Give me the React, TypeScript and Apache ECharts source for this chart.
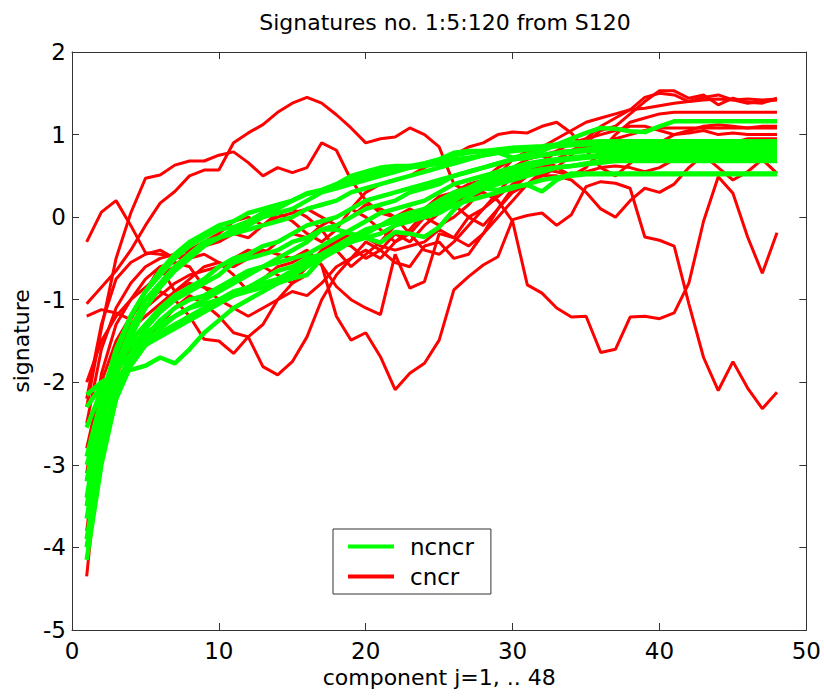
import React, { useEffect, useRef } from 'react';
import * as echarts from 'echarts';

const components = Array.from({ length: 48 }, (_, i) => i + 1);

// ncncr signatures (green)
const ncncr1 = [-3.2,-2.2,-1.6,-1.2,-0.9,-0.65,-0.45,-0.3,-0.2,-0.1,-0.05,0.05,0.1,0.15,0.2,0.28,0.32,0.38,0.45,0.5,0.55,0.58,0.6,0.65,0.7,0.75,0.78,0.8,0.78,0.72,0.76,0.8,0.88,0.95,1.02,1.08,1.07,1.04,1.03,1.1,1.16,1.16,1.16,1.16,1.16,1.16,1.16,1.16];
const ncncr2 = [-2.15,-2.0,-1.9,-1.85,-1.8,-1.7,-1.77,-1.6,-1.4,-1.25,-1.1,-1.0,-0.9,-0.8,-0.7,-0.6,-0.5,-0.4,-0.3,-0.2,-0.1,-0.05,0.0,0.05,0.1,0.2,0.3,0.35,0.4,0.45,0.5,0.55,0.6,0.62,0.65,0.68,0.7,0.7,0.7,0.7,0.7,0.7,0.7,0.7,0.7,0.7,0.7,0.7];
const ncncr3 = [-2.3,-2.05,-1.85,-1.65,-1.5,-1.35,-1.2,-1.1,-1.0,-0.9,-0.8,-0.7,-0.6,-0.5,-0.4,-0.3,-0.15,-0.15,-0.2,-0.25,-0.31,-0.18,-0.2,-0.24,-0.12,0.09,0.25,0.35,0.33,0.37,0.39,0.31,0.45,0.53,0.53,0.53,0.53,0.53,0.53,0.53,0.53,0.53,0.53,0.53,0.53,0.53,0.53,0.53];
const ncncr4 = [-2.55,-2.1,-1.75,-1.5,-1.3,-1.1,-0.95,-0.85,-0.75,-0.6,-0.5,-0.45,-0.35,-0.3,-0.2,-0.1,-0.05,0.0,0.1,0.2,0.25,0.3,0.35,0.4,0.45,0.5,0.55,0.6,0.65,0.7,0.72,0.75,0.78,0.8,0.82,0.84,0.85,0.85,0.85,0.85,0.85,0.85,0.85,0.85,0.85,0.85,0.85,0.85];
const ncncr5 = [-3.65,-2.6,-1.9,-1.45,-1.1,-0.85,-0.65,-0.5,-0.35,-0.25,-0.15,-0.1,0.0,0.05,0.1,0.2,0.3,0.35,0.4,0.45,0.5,0.55,0.6,0.62,0.65,0.7,0.72,0.75,0.78,0.8,0.82,0.84,0.86,0.88,0.9,0.9,0.9,0.9,0.9,0.9,0.9,0.9,0.9,0.9,0.9,0.9,0.9,0.9];
const ncncr6 = [-3.9,-2.8,-2.1,-1.65,-1.35,-1.15,-1.0,-0.9,-0.8,-0.7,-0.55,-0.5,-0.45,-0.4,-0.3,-0.25,-0.15,-0.1,0.0,0.1,0.15,0.2,0.3,0.35,0.4,0.5,0.55,0.6,0.65,0.7,0.72,0.75,0.77,0.78,0.8,0.8,0.8,0.8,0.8,0.8,0.8,0.8,0.8,0.8,0.8,0.8,0.8,0.8];
const ncncr7 = [-4.15,-3.0,-2.2,-1.75,-1.45,-1.25,-1.1,-1.0,-0.95,-0.85,-0.75,-0.65,-0.6,-0.55,-0.5,-0.45,-0.35,-0.25,-0.15,-0.05,0.05,0.1,0.15,0.2,0.3,0.4,0.45,0.5,0.55,0.6,0.65,0.68,0.7,0.72,0.74,0.75,0.75,0.75,0.75,0.75,0.75,0.75,0.75,0.75,0.75,0.75,0.75,0.75];
const ncncr8 = [-3.5,-2.5,-1.8,-1.35,-1.0,-0.8,-0.6,-0.45,-0.3,-0.25,-0.2,-0.15,-0.1,-0.05,0.0,0.1,0.15,0.2,0.3,0.35,0.4,0.45,0.5,0.55,0.6,0.65,0.7,0.75,0.78,0.8,0.82,0.84,0.86,0.87,0.88,0.88,0.88,0.88,0.88,0.88,0.88,0.88,0.88,0.88,0.88,0.88,0.88,0.88];
const ncncr9 = [-2.9,-2.2,-1.8,-1.55,-1.4,-1.3,-1.2,-1.1,-1.05,-1.0,-0.95,-0.9,-0.85,-0.8,-0.74,-0.7,-0.5,-0.35,-0.25,-0.15,-0.1,-0.05,0.0,0.1,0.2,0.3,0.35,0.4,0.45,0.5,0.55,0.58,0.6,0.62,0.64,0.66,0.68,0.68,0.68,0.68,0.68,0.68,0.68,0.68,0.68,0.68,0.68,0.68];
const ncncr10 = [-3.4,-2.3,-1.65,-1.2,-0.9,-0.7,-0.5,-0.35,-0.24,-0.15,-0.12,-0.05,0.05,0.1,0.2,0.29,0.33,0.4,0.5,0.55,0.6,0.62,0.62,0.65,0.7,0.78,0.8,0.8,0.82,0.84,0.85,0.86,0.88,0.9,0.91,0.92,0.92,0.92,0.92,0.92,0.92,0.92,0.92,0.92,0.92,0.92,0.92,0.92];
const ncncr11 = [-4.0,-2.9,-2.2,-1.8,-1.55,-1.4,-1.3,-1.2,-1.1,-1.0,-0.9,-0.85,-0.75,-0.65,-0.6,-0.5,-0.45,-0.35,-0.3,-0.2,-0.1,0.0,0.05,0.1,0.15,0.25,0.35,0.45,0.5,0.55,0.6,0.65,0.68,0.7,0.72,0.73,0.73,0.73,0.73,0.73,0.73,0.73,0.73,0.73,0.73,0.73,0.73,0.73];
const ncncr12 = [-3.0,-2.4,-2.0,-1.7,-1.55,-1.45,-1.35,-1.25,-1.15,-1.05,-0.95,-0.85,-0.8,-0.75,-0.65,-0.55,-0.45,-0.4,-0.3,-0.25,-0.2,-0.1,-0.05,0.0,0.05,0.15,0.2,0.25,0.3,0.35,0.4,0.45,0.48,0.5,0.52,0.52,0.52,0.52,0.52,0.52,0.52,0.52,0.52,0.52,0.52,0.52,0.52,0.52];

// cncr signatures (red)
const cncr1 = [-1.05,-0.85,-0.65,-0.4,-0.1,0.17,0.31,0.5,0.57,0.57,0.9,1.02,1.12,1.27,1.38,1.45,1.38,1.24,1.08,0.9,0.95,0.97,1.08,1.0,0.85,0.4,0.3,0.45,0.6,0.7,0.75,0.85,0.95,1.05,1.15,1.2,1.25,1.3,1.32,1.35,1.38,1.4,1.42,1.43,1.42,1.43,1.42,1.43];
const cncr2 = [-2.3,-1.35,-0.5,0.05,0.47,0.51,0.63,0.68,0.68,0.75,0.79,0.66,0.5,0.6,0.54,0.6,0.9,0.81,0.45,0.2,0.05,0.0,0.1,0.0,-0.1,0.0,0.15,0.35,0.5,0.7,0.8,0.75,0.6,0.5,0.6,0.8,1.0,1.15,1.2,1.25,1.27,1.27,1.27,1.27,1.27,1.27,1.27,1.27];
const cncr3 = [-0.3,0.06,0.2,-0.1,-0.43,-0.45,-0.48,-0.5,-0.45,-0.55,-0.7,-0.9,-0.75,-0.6,-0.55,-0.45,-0.58,-1.2,-1.49,-1.4,-1.69,-2.09,-1.89,-1.77,-1.49,-0.88,-0.72,-0.58,-0.48,-0.03,0.02,0.05,-0.1,0.03,0.37,0.43,0.41,0.35,-0.24,-0.28,-0.35,-1.05,-1.7,-2.1,-1.75,-2.07,-2.32,-2.12];
const cncr4 = [-3.1,-1.9,-1.3,-1.0,-0.75,-0.6,-0.55,-0.6,-0.85,-1.0,-1.1,-1.2,-1.1,-1.0,-0.9,-0.95,-0.8,-0.6,-0.5,-0.4,-0.5,-0.3,-0.2,0.0,0.1,0.15,0.25,0.3,0.2,-0.05,-0.82,-0.92,-1.1,-1.21,-1.2,-1.64,-1.6,-1.21,-1.2,-1.23,-1.16,-0.8,-0.05,0.49,0.29,-0.24,-0.68,-0.19];
const cncr5 = [-4.35,-2.6,-1.9,-1.6,-1.45,-1.3,-1.1,-0.95,-1.05,-1.2,-1.4,-1.45,-1.81,-1.91,-1.75,-1.45,-1.0,-0.7,-0.5,-0.3,-0.4,-0.2,-0.3,-0.1,0.05,0.15,0.3,0.4,0.45,0.6,0.7,0.75,0.8,0.8,0.85,0.9,0.95,1.0,1.05,1.08,1.08,1.08,1.08,1.08,1.08,1.08,1.08,1.08];
const cncr6 = [-1.2,-1.12,-1.16,-1.24,-0.9,-0.6,-0.9,-0.75,-0.6,-0.55,-0.6,-0.5,-0.4,-0.45,-0.5,-0.4,-0.58,-0.84,-1.0,-1.1,-1.18,-0.45,-0.86,-0.78,-0.2,-0.25,0.0,0.1,0.25,0.4,0.5,0.6,0.7,0.8,0.9,1.05,1.1,1.25,1.4,1.53,1.53,1.44,1.48,1.36,1.44,1.39,1.38,1.44];
const cncr7 = [-2.5,-1.6,-1.1,-0.8,-0.6,-0.5,-0.45,-0.4,-0.3,-0.2,-0.05,0.0,-0.1,0.0,0.05,0.1,0.0,-0.1,0.0,0.15,0.1,0.0,-0.2,-0.4,-0.45,-0.3,-0.1,0.1,0.3,0.5,0.55,0.5,0.6,0.75,0.95,1.1,1.2,1.3,1.45,1.5,1.48,1.4,1.45,1.48,1.42,1.38,1.4,1.42];
const cncr8 = [-2.8,-2.0,-1.5,-1.2,-1.0,-0.9,-1.0,-1.2,-1.48,-1.5,-1.65,-1.45,-1.3,-1.0,-0.8,-0.6,-0.4,-0.3,-0.35,-0.5,-0.4,-0.55,-0.6,-0.35,-0.3,-0.5,-0.45,-0.2,0.1,0.3,0.4,0.5,0.5,0.45,0.3,0.1,0.0,0.2,0.35,0.3,0.4,0.6,0.75,0.6,0.45,0.55,0.7,0.53];
const cncr9 = [-3.5,-2.2,-1.6,-1.3,-1.1,-0.95,-0.8,-0.7,-0.65,-0.6,-0.5,-0.4,-0.45,-0.3,-0.2,-0.25,-0.1,0.0,0.1,0.0,-0.15,-0.3,-0.15,0.05,0.2,0.15,0.0,-0.1,0.1,0.35,0.5,0.65,0.8,0.9,0.95,1.0,1.05,1.1,1.1,1.05,1.0,1.02,1.05,1.0,1.02,1.0,1.0,1.0];
const cncr10 = [-2.0,-1.5,-1.2,-1.0,-0.85,-0.7,-0.6,-0.4,-0.35,-0.3,-0.2,-0.25,-0.1,0.05,0.1,0.0,-0.15,-0.4,-0.6,-0.45,-0.3,-0.1,0.05,0.1,0.25,0.3,0.4,0.45,0.5,0.55,0.6,0.58,0.55,0.5,0.55,0.6,0.62,0.6,0.55,0.6,0.7,0.75,0.8,0.85,0.9,0.95,0.95,0.95];
const cncr11 = [-3.8,-2.4,-1.7,-1.35,-1.2,-1.05,-0.9,-0.8,-0.85,-0.9,-0.75,-0.65,-0.6,-0.7,-0.8,-0.7,-0.5,-0.3,-0.2,-0.25,-0.35,-0.4,-0.35,-0.3,-0.15,-0.25,-0.35,-0.2,0.0,0.2,0.4,0.55,0.7,0.8,0.9,0.85,0.75,0.7,0.75,0.8,0.85,0.8,0.8,0.8,0.8,0.8,0.8,0.8];
const cncr12 = [-2.2,-1.3,-0.75,-0.55,-0.45,-0.4,-0.5,-0.45,-0.35,-0.25,-0.15,-0.1,0.0,0.05,-0.05,-0.2,-0.3,-0.15,0.1,0.3,0.4,0.45,0.5,0.6,0.7,0.75,0.85,0.9,1.0,1.03,1.02,1.1,1.15,1.02,0.81,0.6,0.5,0.65,0.8,0.9,1.0,1.05,1.1,1.12,1.1,1.08,1.1,1.1];

const greenGroup = [ncncr1, ncncr2, ncncr3, ncncr4, ncncr5, ncncr6, ncncr7, ncncr8, ncncr9, ncncr10, ncncr11, ncncr12];
const redGroup = [cncr1, cncr2, cncr3, cncr4, cncr5, cncr6, cncr7, cncr8, cncr9, cncr10, cncr11, cncr12];

const yTicks = { min: -5, max: 2, interval: 1 };
const xTicks = { min: 0, max: 50, interval: 10 };

export default function App() {
  const ref = useRef<HTMLDivElement>(null);
  useEffect(() => {
    const chart = echarts.init(ref.current as HTMLDivElement, null, { renderer: 'svg' });
    const font = 'DejaVu Sans';
    const axisColor = '#333';
    const mk = (name: string, data: number[], color: string, width: number) => ({
      name,
      type: 'line',
      data: data.map((v, i) => [components[i], v]),
      symbol: 'none',
      showSymbol: false,
      silent: true,
      lineStyle: { color, width },
      itemStyle: { color },
    });
    const series: any[] = [
      ...redGroup.map((d) => mk('cncr', d, '#ff0000', 3)),
      ...greenGroup.map((d) => mk('ncncr', d, '#00ff00', 4.5)),
    ];
    const baseX = {
      type: 'value',
      ...xTicks,
      splitLine: { show: false },
      axisLine: { show: true, onZero: false, lineStyle: { color: axisColor, width: 1 } },
      axisTick: { show: true, inside: true, length: 7, lineStyle: { color: axisColor } },
    };
    const baseY = {
      type: 'value',
      ...yTicks,
      splitLine: { show: false },
      axisLine: { show: true, onZero: false, lineStyle: { color: axisColor, width: 1 } },
      axisTick: { show: true, inside: true, length: 7, lineStyle: { color: axisColor } },
    };
    chart.setOption({
      animation: false,
      backgroundColor: '#fff',
      title: {
        text: 'Signatures no. 1:5:120 from S120',
        left: 440,
        textAlign: 'center',
        top: 6,
        textStyle: { fontSize: 22, fontWeight: 'normal', fontFamily: font, color: '#000' },
      },
      grid: { left: 72, top: 52, right: 15, bottom: 66, containLabel: false },
      xAxis: [
        {
          ...baseX,
          position: 'bottom',
          axisLabel: { fontSize: 23, color: '#000', fontFamily: font, margin: 9 },
          name: 'component j=1, .. 48',
          nameLocation: 'middle',
          nameGap: 36,
          nameTextStyle: { fontSize: 22, color: '#000', fontFamily: font },
        },
        { ...baseX, position: 'top', axisLabel: { show: false } },
      ],
      yAxis: [
        {
          ...baseY,
          position: 'left',
          axisLabel: { fontSize: 23, color: '#000', fontFamily: font, margin: 6 },
          name: 'signature',
          nameLocation: 'middle',
          nameGap: 39,
          nameTextStyle: { fontSize: 22, color: '#000', fontFamily: font },
        },
        { ...baseY, position: 'right', axisLabel: { show: false } },
      ],
      legend: {
        data: [
          { name: 'ncncr', icon: 'rect' },
          { name: 'cncr', icon: 'rect' },
        ],
        orient: 'vertical',
        left: 333,
        top: 529,
        padding: [6, 17, 6, 15],
        itemGap: 7,
        itemWidth: 46,
        itemHeight: 4,
        borderColor: '#333',
        borderWidth: 1,
        backgroundColor: '#fff',
        selectedMode: false,
        textStyle: { fontSize: 23, fontFamily: font, color: '#000', padding: [0, 0, 0, 11] },
      },
      series,
    });
    return () => chart.dispose();
  }, []);
  return (
    <div
      ref={ref}
      style={{ position: 'fixed', left: 0, top: 0, width: 824, height: 696, background: '#fff' }}
    />
  );
}
